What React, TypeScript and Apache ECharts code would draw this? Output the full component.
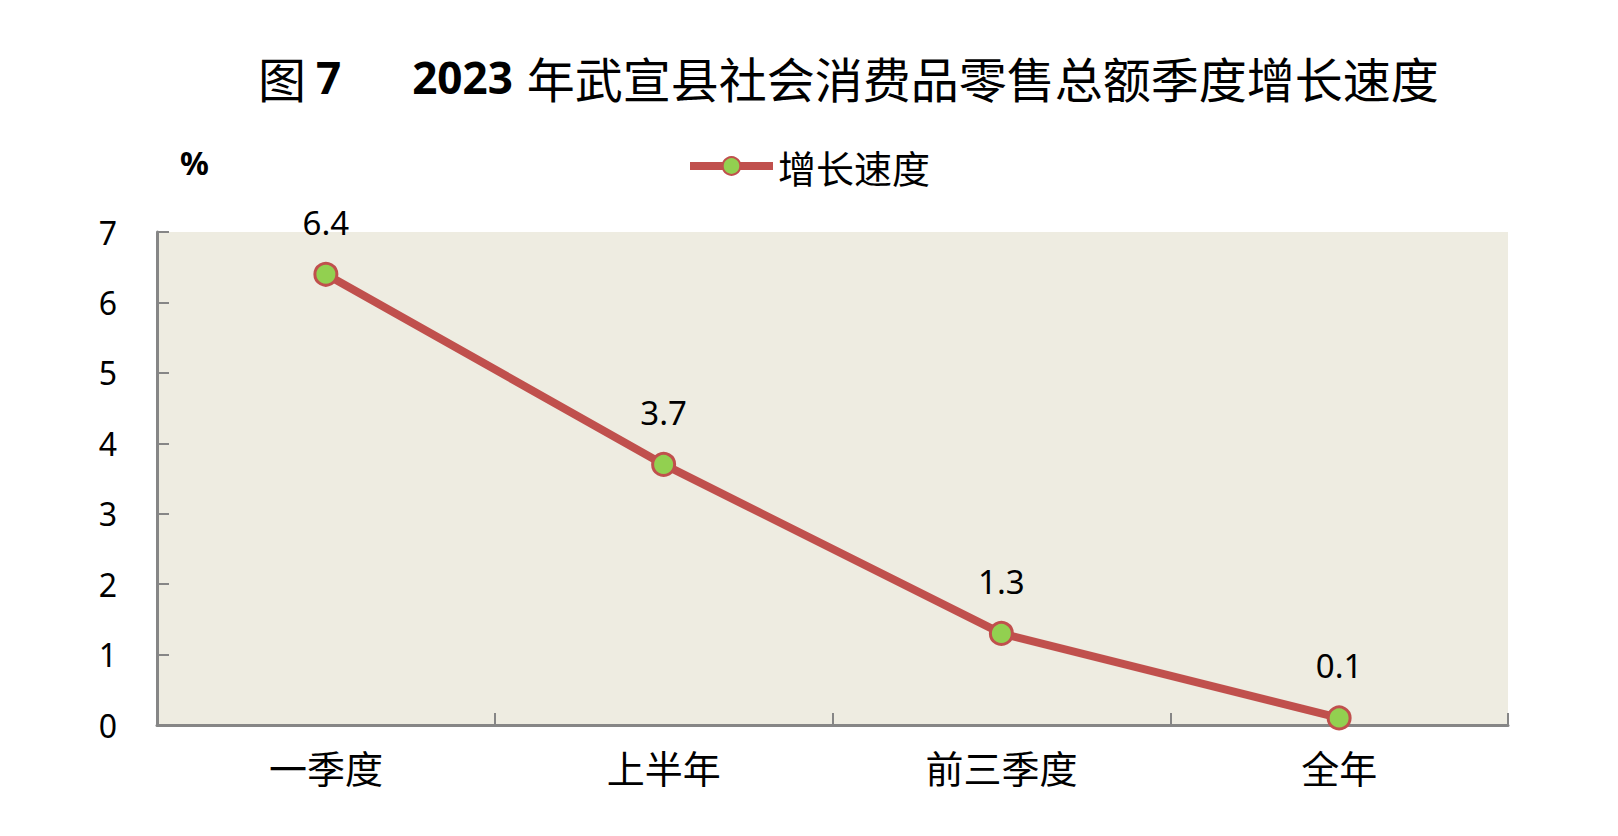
import React, { useEffect, useRef } from "react";
import * as echarts from "echarts";

const categories = ["一季度", "上半年", "前三季度", "全年"];
const growth = [6.4, 3.7, 1.3, 0.1];
const seriesName = "增长速度";
const titleFig = "图";
const titleNum = "7";
const titleYear = "2023";
const titleRest = "年武宣县社会消费品零售总额季度增长速度";
const unitLabel = "%";

const CJK = "'Noto Sans CJK SC', 'Noto Sans', sans-serif";
const NUM = "'Noto Sans', 'Open Sans', sans-serif";

export default function App() {
  const ref = useRef<HTMLDivElement>(null);
  useEffect(() => {
    if (!ref.current) return;
    const chart = echarts.init(ref.current, undefined, { renderer: "svg" });
    chart.setOption({
      animation: false,
      backgroundColor: "#ffffff",
      title: {
        text: `{a|${titleFig}}{b|${titleNum}}{c|${titleYear}}{a|${titleRest}}`,
        left: 253,
        top: 48,
        textStyle: {
          rich: {
            a: { fontFamily: CJK, fontSize: 48, color: "#000", fontWeight: "normal" },
            b: { fontFamily: NUM, fontSize: 44, color: "#000", fontWeight: "bold", padding: [0, 0, 0, 10] },
            c: { fontFamily: NUM, fontSize: 44, color: "#000", fontWeight: "bold", padding: [0, 14, 0, 71] },
          },
        },
      },
      legend: {
        data: [seriesName],
        left: 681,
        top: 142,
        itemWidth: 83,
        itemHeight: 22,
        itemGap: 10,
        lineStyle: { width: 8, color: "#C0504D" },
        textStyle: { fontFamily: CJK, fontSize: 38, color: "#000" },
      },
      graphic: [
        {
          type: "text",
          left: 180,
          top: 146,
          style: { text: unitLabel, font: `bold 32px ${NUM}`, fill: "#000" },
        },
      ],
      grid: {
        left: 157,
        right: 110,
        top: 232,
        bottom: 111,
        show: true,
        backgroundColor: "#EEECE1",
        borderWidth: 0,
      },
      xAxis: {
        type: "category",
        data: categories,
        boundaryGap: true,
        axisLine: { lineStyle: { color: "#868686", width: 3 } },
        axisTick: { show: true, inside: true, length: 12, alignWithLabel: false, lineStyle: { color: "#868686", width: 2 } },
        axisLabel: { fontFamily: CJK, fontSize: 38, color: "#000", margin: 22 },
        splitLine: { show: false },
      },
      yAxis: {
        type: "value",
        min: 0,
        max: 7,
        interval: 1,
        axisLine: { show: true, lineStyle: { color: "#868686", width: 3 } },
        axisTick: { show: true, inside: true, length: 12, lineStyle: { color: "#868686", width: 2 } },
        axisLabel: { fontFamily: NUM, fontSize: 32, color: "#000", margin: 40, padding: [6, 0, 0, 0] },
        splitLine: { show: false },
      },
      series: [
        {
          name: seriesName,
          type: "line",
          data: growth,
          symbol: "circle",
          symbolSize: 22,
          lineStyle: { color: "#C0504D", width: 8 },
          itemStyle: { color: "#92D050", borderColor: "#C0504D", borderWidth: 3 },
          label: {
            show: true,
            position: "top",
            distance: 23,
            fontFamily: NUM,
            fontSize: 33,
            color: "#000",
          },
        },
      ],
    });
    return () => chart.dispose();
  }, []);
  return (
    <div
      ref={ref}
      style={{ position: "fixed", left: 0, top: 0, width: "1618px", height: "836px" }}
    />
  );
}
